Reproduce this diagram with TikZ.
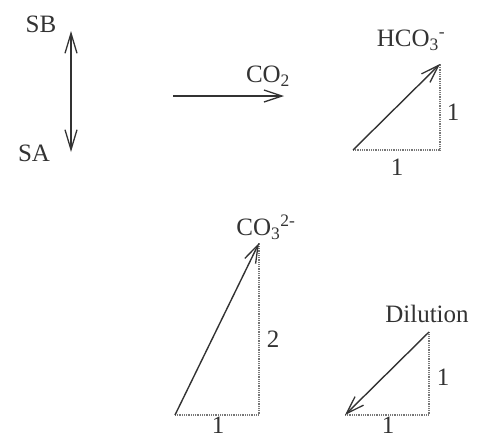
\documentclass[tikz,border=0pt]{standalone}
\usepackage{fontspec}
\setmainfont{Liberation Serif}
\usetikzlibrary{arrows.meta}
\definecolor{ink}{HTML}{333333}
\definecolor{dotc}{HTML}{777777}
\tikzset{
  lbl/.style={text=ink, font=\fontsize{25}{28}\selectfont, inner sep=0pt},
  vec/.style={draw=ink, line width=1.4pt, -{Straight Barb[length=18pt,width=12pt,line width=1.3pt]}},
  dvec/.style={draw=ink, line width=1.4pt, {Straight Barb[length=20pt,width=12pt,line width=1.3pt]}-{Straight Barb[length=20pt,width=12pt,line width=1.3pt]}},
  side/.style={draw=dotc, line width=1.6pt, dash pattern=on 1pt off 0.8pt}
}
\begin{document}
\begin{tikzpicture}[x=1pt,y=-1pt]
\useasboundingbox (0,0) rectangle (478,439);
% SB / SA
\node[lbl] (sb) at (41,24) {SB};
\node[lbl] (sa) at (34,153) {SA};
\coordinate (dtop) at (71,31);
\coordinate (dbot) at (71,152);
\draw[dvec] (dtop) -- (dbot);
% CO2 arrow
\coordinate (h1) at (173,96);
\coordinate (h2) at (284,96);
\draw[vec] (h1) -- (h2);
\node[lbl] (co2) at (268,76) {CO\textsubscript{2}};
% HCO3 triangle
\coordinate (a1) at (353,150);
\coordinate (a2) at (440,150);
\coordinate (a3) at (440,64);
\draw[side] (a1) -- (a2) -- (a3);
\draw[vec] (a1) -- (a3);
\node[lbl] (hco) at (411,40) {HCO\textsubscript{3}\textsuperscript{-}};
\node[lbl] (a1v) at (453,112) {1};
\node[lbl] (a1h) at (397,167) {1};
% CO3 triangle
\coordinate (b1) at (175,415);
\coordinate (b2) at (259,415);
\coordinate (b3) at (259,243);
\draw[side] (b1) -- (b2) -- (b3);
\draw[vec] (b1) -- (b3);
\node[lbl] (co3) at (266,227) {CO\textsubscript{3}\textsuperscript{2-}};
\node[lbl] (b2v) at (273,339) {2};
\node[lbl] (b1h) at (218,425) {1};
% Dilution triangle
\coordinate (c1) at (345,415);
\coordinate (c2) at (429,415);
\coordinate (c3) at (429,332);
\draw[side] (c1) -- (c2) -- (c3);
\draw[vec] (c3) -- (c1);
\node[lbl] (dil) at (427,314) {Dilution};
\node[lbl] (c1v) at (443,377) {1};
\node[lbl] (c1h) at (388,425) {1};
\end{tikzpicture}
\end{document}
